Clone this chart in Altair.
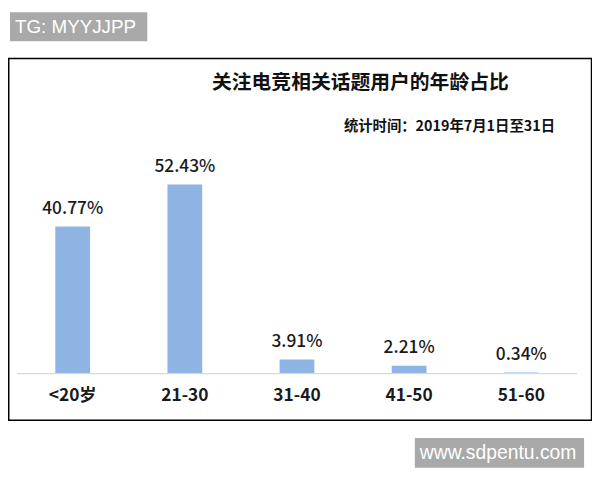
import altair as alt
import pandas as pd

categories = ["<20岁", "21-30", "31-40", "41-50", "51-60"]
values = [40.77, 52.43, 3.91, 2.21, 0.34]
value_labels = ["40.77%", "52.43%", "3.91%", "2.21%", "0.34%"]

title_text = "关注电竞相关话题用户的年龄占比"
subtitle_text = "统计时间：2019年7月1日至31日"
tag_text = "TG: MYYJJPP"
site_text = "www.sdpentu.com"

df = pd.DataFrame({"cat": categories, "val": values, "lab": value_labels})
one = pd.DataFrame({"a": [0]})

CJK = "Noto Sans CJK SC"
BAR = "#8EB4E3"

xs = alt.Scale(domain=categories, range=[8.7, 575.2], paddingInner=0.69, paddingOuter=0.345)
ys = alt.Scale(domain=[0, 60], range=[367, 148.4])

X = alt.X("cat:N", scale=xs, axis=None, sort=categories)
Y = alt.Y("val:Q", scale=ys, axis=None)

# decorative boxes
tag_box = alt.Chart(one).mark_rect(color="#a9a9a9").encode(
    x=alt.value(2), x2=alt.value(140.7), y=alt.value(2), y2=alt.value(31.3))
tag_txt = alt.Chart(one).mark_text(text=tag_text, color="white", font="Liberation Sans",
                                    fontSize=19, align="left", baseline="middle").encode(
    x=alt.value(7), y=alt.value(17))
frame = alt.Chart(one).mark_rect(fill="white", fillOpacity=0, stroke="black", strokeWidth=1.5).encode(
    x=alt.value(0.75), x2=alt.value(589.5), y=alt.value(48.7), y2=alt.value(414))
site_box = alt.Chart(one).mark_rect(color="#a9a9a9").encode(
    x=alt.value(411), x2=alt.value(582), y=alt.value(432), y2=alt.value(462))
site_txt = alt.Chart(one).mark_text(text=site_text, color="white", font="Liberation Sans",
                                     fontSize=19.5, align="left", baseline="middle").encode(
    x=alt.value(416), y=alt.value(447))

title = alt.Chart(one).mark_text(text=title_text, color="#111111", font=CJK, fontSize=20,
                                  fontWeight="bold", align="center", baseline="middle").encode(
    x=alt.value(356), y=alt.value(73))
subtitle = alt.Chart(one).mark_text(text=subtitle_text, color="#111111", font=CJK, fontSize=14.5,
                                     fontWeight="bold", align="center", baseline="middle").encode(
    x=alt.value(446), y=alt.value(118))

baseline = alt.Chart(one).mark_rule(color="#d9d9d9", strokeWidth=1.5).encode(
    x=alt.value(9), x2=alt.value(575), y=alt.value(367))

bars = alt.Chart(df).mark_bar(color=BAR).encode(x=X, y=Y)

vlabels = alt.Chart(df).mark_text(font=CJK, fontSize=17.5, fontWeight=500, color="#1a1a1a",
                                   baseline="middle", dy=-18).encode(x=X, y=Y, text="lab:N")

clabels = alt.Chart(df).mark_text(font=CJK, fontSize=17.5, fontWeight="bold", color="#1a1a1a",
                                   baseline="middle").encode(x=X, y=alt.value(390), text="cat:N")

chart = alt.layer(frame, tag_box, tag_txt, site_box, site_txt, title, subtitle,
                  bars, baseline, vlabels, clabels).properties(
    width=590, height=464, padding=0, autosize="none"
).configure_view(stroke=None)

chart.save("out.html", embed_options={"renderer": "svg", "actions": False})
